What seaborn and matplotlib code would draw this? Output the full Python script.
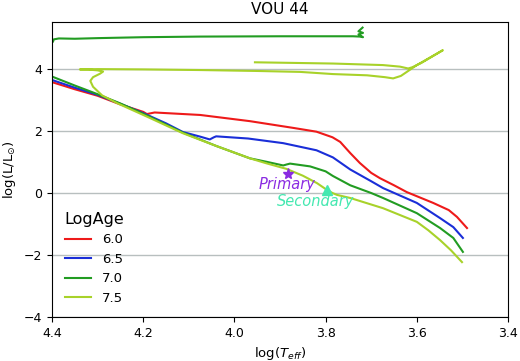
import matplotlib
matplotlib.use("Agg")
import matplotlib.pyplot as plt
import seaborn as sns
import pandas as pd

# ---- data (log Teff, log L) ----
age_labels = ["6.0", "6.5", "7.0", "7.5"]
line_colors = ["#ee1a1a", "#1a2ed8", "#229c22", "#a8d22a"]

teff_60 = [4.42, 4.40, 4.35, 4.30, 4.25, 4.20, 4.192, 4.185, 4.175, 4.075, 3.966, 3.87, 3.82,
           3.785, 3.768, 3.746, 3.725, 3.70, 3.681, 3.65, 3.622, 3.564, 3.53, 3.512, 3.49]
logl_60 = [3.67, 3.58, 3.35, 3.14, 2.86, 2.62, 2.55, 2.57, 2.60, 2.52, 2.32, 2.10, 1.98,
           1.80, 1.65, 1.29, 0.97, 0.65, 0.48, 0.25, 0.03, -0.32, -0.55, -0.77, -1.13]

teff_65 = [4.42, 4.40, 4.35, 4.30, 4.25, 4.20, 4.15, 4.113, 4.075, 4.054, 4.045, 4.04, 3.97,
           3.929, 3.893, 3.82, 3.784, 3.746, 3.70, 3.674, 3.60, 3.549, 3.52, 3.499]
logl_65 = [3.74, 3.65, 3.40, 3.17, 2.88, 2.58, 2.25, 1.97, 1.82, 1.73, 1.80, 1.83, 1.76,
           1.68, 1.61, 1.38, 1.15, 0.76, 0.38, 0.16, -0.32, -0.81, -1.10, -1.45]

teff_70 = [3.499, 3.52, 3.549, 3.60, 3.674, 3.70, 3.746, 3.784, 3.80, 3.834, 3.878, 3.886,
           3.893, 3.93, 3.966, 4.04, 4.113, 4.15, 4.20, 4.25, 4.30, 4.35, 4.40, 4.42,
           4.48, 4.45, 4.42, 4.398, 4.396, 4.385, 4.35, 4.30, 4.20, 4.075, 3.90, 3.74,
           3.725, 3.718, 3.728, 3.718, 3.728, 3.719]
logl_70 = [-1.90, -1.45, -1.13, -0.65, -0.16, 0.00, 0.25, 0.55, 0.70, 0.86, 0.95, 0.92,
           0.89, 1.01, 1.12, 1.52, 1.95, 2.21, 2.56, 2.89, 3.19, 3.47, 3.76, 3.85,
           4.30, 4.85, 4.87, 4.88, 4.96, 4.99, 4.98, 5.00, 5.03, 5.05, 5.06, 5.06,
           5.05, 5.03, 5.12, 5.17, 5.22, 5.34]

teff_75 = [3.501, 3.525, 3.549, 3.575, 3.600, 3.674, 3.746, 3.775, 3.785, 3.80, 3.819, 3.85,
           3.886, 3.93, 3.966, 4.04, 4.113, 4.185, 4.257, 4.29, 4.31, 4.316, 4.31, 4.295,
           4.288, 4.30, 4.32, 4.339, 4.30, 4.20, 4.075, 3.95, 3.856, 3.784, 3.709, 3.67,
           3.652, 3.635, 3.60, 3.543, 3.59, 3.61, 3.619, 3.637, 3.674, 3.784, 3.955]
logl_75 = [-2.23, -1.85, -1.52, -1.20, -0.93, -0.49, -0.16, -0.06, 0.00, 0.13, 0.32, 0.56,
           0.78, 0.96, 1.12, 1.52, 1.93, 2.42, 2.90, 3.15, 3.43, 3.62, 3.74, 3.85,
           3.92, 3.96, 3.985, 3.99, 4.00, 3.99, 3.97, 3.94, 3.91, 3.84, 3.80, 3.74,
           3.70, 3.78, 4.13, 4.61, 4.20, 4.06, 4.02, 4.08, 4.13, 4.18, 4.22]

star_names = ["Primary", "Secondary"]
star_teff = [3.882, 3.797]
star_logl = [0.61, 0.10]
star_markers = ["*", "^"]
star_colors = ["blueviolet", "#44e8b0"]
label_teff = [3.884, 3.821]
label_logl = [0.26, -0.28]

x_ticks = [4.4, 4.2, 4.0, 3.8, 3.6, 3.4]
y_ticks = [-4, -2, 0, 2, 4]

# ---- build table ----
frames = []
for lab, tx, ly in zip(age_labels,
                       [teff_60, teff_65, teff_70, teff_75],
                       [logl_60, logl_65, logl_70, logl_75]):
    frames.append(pd.DataFrame({"logTe": tx, "logL": ly, "LogAge": lab,
                                "order": range(len(tx))}))
df = pd.concat(frames, ignore_index=True)

fig = plt.figure(figsize=(5.2, 3.61), dpi=100)
ax = fig.add_axes([0.1, 0.122, 0.877, 0.817])

sns.lineplot(data=df, x="logTe", y="logL", hue="LogAge", hue_order=age_labels,
             palette=line_colors, sort=False, estimator=None, units=None,
             linewidth=1.5, ax=ax)

for nm, tx, ly, mk, c, lx, lyy in zip(star_names, star_teff, star_logl, star_markers,
                                      star_colors, label_teff, label_logl):
    ax.plot([tx], [ly], marker=mk, color=c, ms=8 if mk == "*" else 7, linestyle="none")
    ax.text(lx, lyy, nm, color=c, fontsize=10.5, style="italic", ha="center", va="center")

ax.set_xlim(4.4, 3.4)
ax.set_ylim(-4, 5.52)
ax.set_xticks(x_ticks)
ax.set_yticks(y_ticks)
ax.tick_params(labelsize=9)
ax.yaxis.grid(True, color="#b8bfbf", linewidth=1.0)
ax.xaxis.grid(False)
ax.set_axisbelow(True)
ax.set_xlabel(r"log($T_{eff}$)", fontsize=9.5)
ax.set_ylabel(r"log(L/L$_{\odot}$)", fontsize=9.5)
ax.set_title("VOU 44", fontsize=11)

ax.legend(title="LogAge", frameon=False, loc="lower left", fontsize=9.5,
          title_fontsize=11.5, handlelength=2.0)

fig.savefig("out.png", dpi=100)
